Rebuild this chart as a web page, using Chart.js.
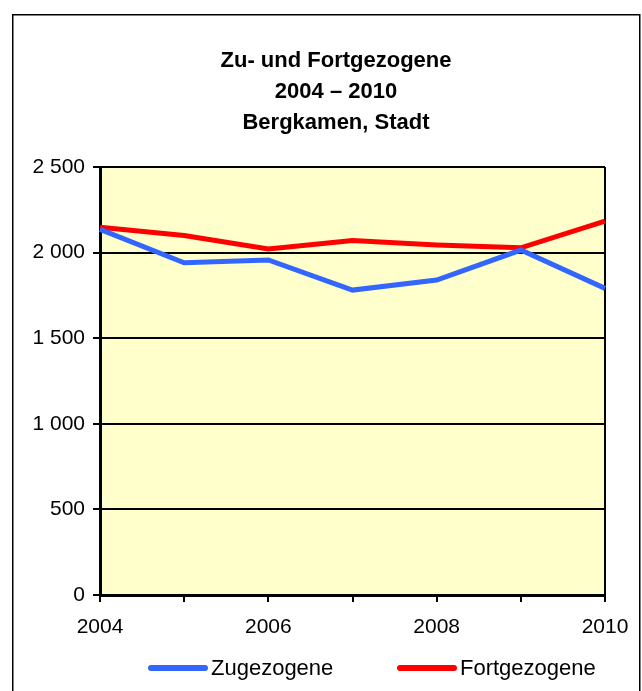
<!DOCTYPE html>
<html>
<head>
<meta charset="utf-8">
<script src="https://cdn.jsdelivr.net/npm/chart.js@4.4.1/dist/chart.umd.min.js"></script>
<style>
  html, body { margin: 0; padding: 0; background: #fff; }
  #wrap { width: 642px; height: 691px; position: relative; }
</style>
</head>
<body>
<div id="wrap"><canvas id="chart"></canvas></div>
<script>
// === Daten
const years = ['2004', '2005', '2006', '2007', '2008', '2009', '2010'];
const zugezogene = [2136, 1941, 1957, 1781, 1840, 2015, 1791];
const fortgezogene = [2148, 2100, 2021, 2070, 2044, 2028, 2184];
const yMax = 2500;
const yStep = 500;

const FONT = '"Liberation Sans", Arial, sans-serif';
const PAD_LEFT = 14;

// Tausendertrennzeichen als Leerzeichen: 2 500
const fmt = v => String(v).replace(/\B(?=(\d{3})+(?!\d))/g, ' ');

// Rahmen, Hintergrund der Zeichenfläche und Legende
const frame = {
  id: 'frame',
  afterLayout(chart) {
    // Titel wie im Original etwas nach rechts versetzt
    chart.titleBlock.left = 67;
  },
  beforeDraw(chart) {
    const { ctx, chartArea: a } = chart;
    ctx.save();
    ctx.fillStyle = '#ffffcc';
    ctx.fillRect(a.left, a.top, a.right - a.left, a.bottom - a.top);
    ctx.strokeStyle = '#000';
    ctx.lineWidth = 1.5;
    ctx.strokeRect(12.75, 14.75, 627, 700);
    ctx.restore();
  },
  beforeDatasetsDraw(chart) {
    const { ctx, chartArea: a } = chart;
    ctx.save();
    ctx.strokeStyle = '#000';
    ctx.lineWidth = 2;
    ctx.beginPath();
    ctx.moveTo(a.right, a.top);
    ctx.lineTo(a.right, a.bottom);
    ctx.stroke();
    ctx.restore();
  },
  afterDraw(chart) {
    const { ctx } = chart;
    const y = 668;
    const items = [[148, 0], [397, 1]];
    ctx.save();
    ctx.font = '22px ' + FONT;
    ctx.textBaseline = 'middle';
    items.forEach(([x, i]) => {
      const ds = chart.data.datasets[i];
      ctx.strokeStyle = ds.borderColor;
      ctx.lineWidth = 6;
      ctx.lineCap = 'round';
      ctx.beginPath();
      ctx.moveTo(x + 3, y);
      ctx.lineTo(x + 57, y);
      ctx.stroke();
      ctx.fillStyle = '#000';
      ctx.fillText(ds.label, x + 63, y + 1);
    });
    ctx.restore();
  }
};

new Chart(document.getElementById('chart'), {
  type: 'line',
  data: {
    labels: years,
    datasets: [
      { label: 'Zugezogene', data: zugezogene, borderColor: '#3366ff', borderWidth: 5, pointRadius: 0, tension: 0 },
      { label: 'Fortgezogene', data: fortgezogene, borderColor: '#ff0000', borderWidth: 5, pointRadius: 0, tension: 0 }
    ]
  },
  options: {
    responsive: true,
    maintainAspectRatio: false,
    animation: false,
    layout: { padding: { left: PAD_LEFT, top: 14, right: 37, bottom: 51 } },
    plugins: {
      legend: { display: false },
      tooltip: { enabled: false },
      title: {
        display: true,
        text: ['Zu- und Fortgezogene', '2004 – 2010', 'Bergkamen, Stadt'],
        color: '#000',
        font: { family: FONT, size: 22, weight: 'bold', lineHeight: '31px' },
        padding: { top: 31, bottom: 29 }
      }
    },
    scales: {
      x: {
        offset: false,
        afterFit: s => { s.height = 45; },
        grid: { drawOnChartArea: false, drawTicks: true, tickLength: 7, color: '#000', lineWidth: 2 },
        border: { color: '#000', width: 3 },
        ticks: {
          autoSkip: false,
          maxRotation: 0,
          padding: 13,
          color: '#000',
          font: { family: FONT, size: 21 },
          callback: (v, i) => (i % 2 === 0 ? years[i] : '')
        }
      },
      y: {
        min: 0,
        max: yMax,
        afterFit: s => { s.width = 100 - PAD_LEFT; },
        grid: { color: '#000', lineWidth: 2, tickLength: 7 },
        border: { color: '#000', width: 3 },
        ticks: {
          stepSize: yStep,
          padding: 8,
          color: '#000',
          font: { family: FONT, size: 21 },
          callback: v => fmt(v)
        }
      }
    }
  },
  plugins: [frame]
});
</script>
</body>
</html>
